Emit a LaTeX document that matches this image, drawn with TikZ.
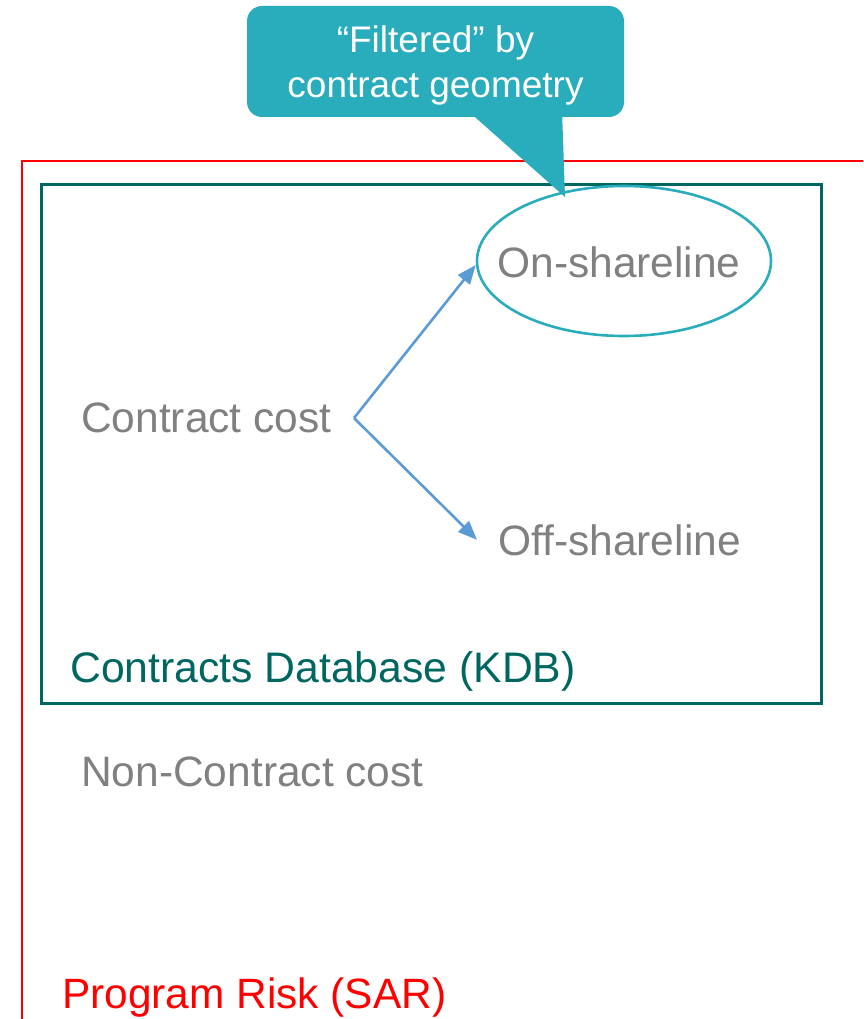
\documentclass[tikz,border=0pt]{standalone}
\usepackage{fontspec}
\setmainfont{Liberation Sans}
\usetikzlibrary{arrows.meta,shapes.geometric}
\definecolor{sarred}{RGB}{255,0,0}
\definecolor{kdbteal}{RGB}{0,102,96}
\definecolor{calloutcyan}{RGB}{41,172,187}
\definecolor{labelgray}{RGB}{128,128,128}
\definecolor{flowblue}{RGB}{91,155,213}
\tikzset{
  label text/.style={inner sep=0pt, anchor=base west, text=labelgray, font=\fontsize{42.5}{50}\selectfont},
  flow arrow/.style={draw=flowblue, line width=2.6pt, -{Triangle[length=19pt,width=15pt]}},
}
\begin{document}
\begin{tikzpicture}[x=1pt,y=-1pt]
  \useasboundingbox (0,0) rectangle (863,1019);
  \begin{scope}
    \clip (0,0) rectangle (863,1019);
    % outer program-risk frame, open to the right and bottom
    \draw[sarred, line width=2.8pt] (22,1030) |- (875,161);
  \end{scope}

  % contracts database box
  \draw[kdbteal, line width=3pt] (41,185) rectangle (821,703);

  % on-shareline ellipse
  \node[ellipse, draw=calloutcyan, line width=2.6pt, minimum width=294pt, minimum height=150pt,
        inner sep=0pt] (on) at (624,261) {};
  \node[label text, anchor=base] (ontext) at (619,277) {On-shareline};

  \node[label text] (cc) at (81,432) {Contract cost};
  \coordinate (fork) at (354,418);
  \node[label text, inner xsep=21pt] (off) at (477,555) {Off-shareline};

  \draw[flow arrow] (fork) -- ([yshift=-4pt]on.west);
  \draw[flow arrow] (fork) -- (off.west);

  \node[inner sep=0pt, anchor=base west, text=kdbteal, font=\fontsize{42.7}{50}\selectfont] (kdb) at (70,682) {Contracts Database (KDB)};
  \node[label text] (ncc) at (81,786) {Non-Contract cost};
  \node[inner sep=0pt, anchor=base west, text=sarred, font=\fontsize{42.4}{50}\selectfont] (sar) at (62,1008) {Program Risk (SAR)};

  % callout with pointer towards the ellipse
  \coordinate (tip) at (565,197);
  \fill[calloutcyan] (467,110) -- (tip) -- (562,110) -- cycle;
  \node[fill=calloutcyan, rounded corners=15pt, minimum width=377pt, minimum height=111pt,
        inner sep=0pt] (callout) at (435.5,61.5) {};
  \node[text=white, align=center, font=\fontsize{37}{45}\selectfont, anchor=base, inner sep=0pt]
    (callouttext) at (435.5,98) {“Filtered” by\\contract geometry};
\end{tikzpicture}
\end{document}
